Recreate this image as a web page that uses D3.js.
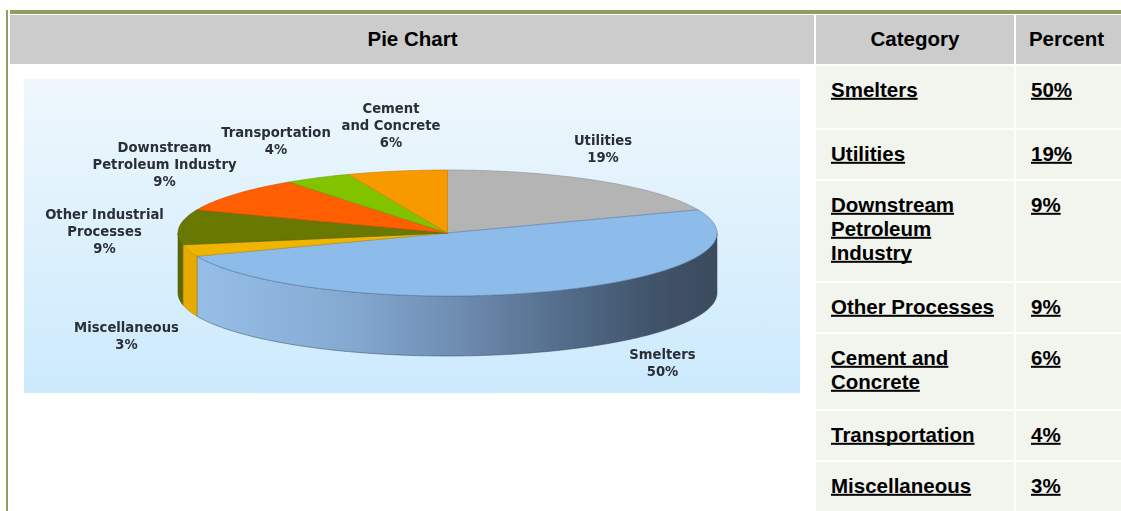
<!DOCTYPE html>
<html>
<head>
<meta charset="utf-8">
<script src="https://cdn.jsdelivr.net/npm/d3@7"></script>
<style>
  html, body { margin: 0; padding: 0; background: #ffffff; overflow: hidden; }
  svg { display: block; }
</style>
</head>
<body>
<svg id="chart" width="1121" height="511"></svg>
<script>
// ---- data ---------------------------------------------------------------
// Pie slices, clockwise from 12 o'clock
const sliceCategories = ["Utilities", "Smelters", "Miscellaneous", "Other Industrial Processes",
                         "Downstream Petroleum Industry", "Transportation", "Cement and Concrete"];
const sliceLabelLines = [["Utilities"], ["Smelters"], ["Miscellaneous"], ["Other Industrial", "Processes"],
                         ["Downstream", "Petroleum Industry"], ["Transportation"], ["Cement", "and Concrete"]];
const slicePercents = [19, 50, 3, 9, 9, 4, 6];

// Table rows
const tableHeaders = ["Pie Chart", "Category", "Percent"];
const tableCategories = ["Smelters", "Utilities", "Downstream Petroleum Industry", "Other Processes",
                         "Cement and Concrete", "Transportation", "Miscellaneous"];
const tablePercents = [50, 19, 9, 9, 6, 4, 3];

// ---- styles -------------------------------------------------------------
const topColors  = ["#b4b4b4", "#8dbbea", "#efb500", "#687800", "#ff5e00", "#82c300", "#f79a04"];
const sideColors = ["#9a9a9a", "url(#smeltSide)", "#e6aa00", "#5a6700", "#e05000", "#70a800", "#d98500"];
const green = "#8e9f60";
const headerGray = "#cccccc";
const cellBg = "#f2f4ee";
const tableFont = "'Liberation Sans', Arial, sans-serif";
const labelFont = "'DejaVu Sans', sans-serif";

const svg = d3.select("#chart");
const defs = svg.append("defs");

// ---- table frame --------------------------------------------------------
const colEdges = [10, 815, 1015, 1121];   // column boundaries (white rules sit on the inner ones)
const headTop = 14, headBottom = 65;
const lineH = 24, baseOffset = 31.5, padX = 15, minFirstRow = 64;

// olive frame lines
svg.append("rect").attr("x", 6).attr("y", 10).attr("width", 2).attr("height", 511 - 10).attr("fill", green);
svg.append("rect").attr("x", 10).attr("y", 10).attr("width", 1121 - 10).attr("height", 4).attr("fill", green);

// header cells
const headerG = svg.append("g");
headerG.selectAll("rect").data(tableHeaders).join("rect")
  .attr("x", (d, i) => colEdges[i] + (i === 0 ? 0 : 1))
  .attr("y", headTop + 1)
  .attr("width", (d, i) => colEdges[i + 1] - colEdges[i] - (i === 0 ? 1 : (i === 2 ? 1 : 2)))
  .attr("height", headBottom - headTop - 2)
  .attr("fill", headerGray);
headerG.selectAll("text").data(tableHeaders).join("text")
  .attr("x", (d, i) => (colEdges[i] + colEdges[i + 1] + (i === 2 ? -3 : 0)) / 2)
  .attr("y", 46)
  .attr("text-anchor", "middle")
  .attr("font-family", tableFont).attr("font-weight", "bold").attr("font-size", "20.5px")
  .attr("fill", "#000")
  .text(d => d);

// body rows (text wrapped to the category column width)
const bodyG = svg.append("g").attr("font-family", tableFont).attr("font-weight", "bold")
  .attr("font-size", "20.5px").attr("fill", "#000");

const measure = bodyG.append("text").attr("visibility", "hidden");
function wrap(str, maxW) {
  const words = str.split(" ");
  const lines = [];
  let cur = "";
  words.forEach(w => {
    const trial = cur ? cur + " " + w : w;
    measure.text(trial);
    if (cur && measure.node().getComputedTextLength() > maxW) { lines.push(cur); cur = w; }
    else cur = trial;
  });
  if (cur) lines.push(cur);
  return lines;
}
const catWidth = colEdges[2] - colEdges[1] - 2 * padX - 2;

let yCursor = headBottom;
const rows = tableCategories.map((c, i) => {
  const lines = wrap(c, catWidth);
  let h = Math.round(25.5 * (lines.length + 1));
  if (i === 0) h = Math.max(h, minFirstRow);
  const r = { lines, pct: tablePercents[i] + "%", top: yCursor, h };
  yCursor += h;
  return r;
});
measure.remove();

const rowG = bodyG.selectAll("g.row").data(rows).join("g").attr("class", "row");
[1, 2].forEach(ci => {
  rowG.append("rect")
    .attr("x", colEdges[ci] + 1)
    .attr("y", d => d.top + 1)
    .attr("width", colEdges[ci + 1] - colEdges[ci] - (ci === 2 ? 1 : 2))
    .attr("height", d => d.h - 2)
    .attr("fill", cellBg);
});

function underlinedText(g, str, x, y) {
  const t = g.append("text").attr("x", x).attr("y", y).text(str);
  const w = t.node().getComputedTextLength();
  g.append("rect").attr("x", x).attr("y", y + 1.3).attr("width", w).attr("height", 2).attr("fill", "#000");
}
rowG.each(function (d) {
  const g = d3.select(this);
  d.lines.forEach((ln, k) => underlinedText(g, ln, colEdges[1] + 1 + padX, d.top + baseOffset + k * lineH));
  underlinedText(g, d.pct, colEdges[2] + 1 + padX, d.top + baseOffset);
});

// ---- pie picture --------------------------------------------------------
const img = { x: 24, y: 79, w: 776, h: 314 };
const bg = defs.append("linearGradient").attr("id", "imgBg").attr("x1", 0).attr("y1", 0).attr("x2", 0).attr("y2", 1);
bg.append("stop").attr("offset", 0).attr("stop-color", "#eef7fc");
bg.append("stop").attr("offset", 1).attr("stop-color", "#cceafd");
svg.append("rect").attr("x", img.x).attr("y", img.y).attr("width", img.w).attr("height", img.h).attr("fill", "url(#imgBg)");

const P = { cx: 447.5, cy: 233, rx: 269.5, ry: 63, depth: 60 };

const sg = defs.append("linearGradient").attr("id", "smeltSide").attr("gradientUnits", "userSpaceOnUse")
  .attr("x1", P.cx - P.rx).attr("y1", 0).attr("x2", P.cx + P.rx).attr("y2", 0);
[[0, "#98c1eb"], [0.3, "#86abd3"], [0.52, "#6e8db1"], [0.72, "#536c8a"], [0.88, "#415369"], [1, "#3c4b5f"]]
  .forEach(([o, c]) => sg.append("stop").attr("offset", o).attr("stop-color", c));

const blur = defs.append("filter").attr("id", "soft").attr("x", "-5%").attr("y", "-5%").attr("width", "110%").attr("height", "110%");
blur.append("feGaussianBlur").attr("stdDeviation", 0.6);

const slices = d3.pie().sort(null).value(d => d.value)
  (sliceCategories.map((c, i) => ({ name: c, value: slicePercents[i], lines: sliceLabelLines[i], i })));

const ex = d3.scaleLinear().domain([-1, 1]).range([P.cx - P.rx, P.cx + P.rx]);
const ey = d3.scaleLinear().domain([-1, 1]).range([P.cy - P.ry, P.cy + P.ry]);
const pt = (a, dy) => [ex(Math.sin(a)), ey(-Math.cos(a)) + dy];
const arcPts = (a0, a1, dy) => {
  const n = Math.max(2, Math.ceil((a1 - a0) / 0.01));
  return d3.range(n + 1).map(k => pt(a0 + (a1 - a0) * k / n, dy));
};
const line = d3.line();

const pieG = svg.append("g").attr("filter", "url(#soft)");

// front walls
pieG.append("g").selectAll("path").data(slices).join("path")
  .attr("d", d => {
    const s0 = Math.max(d.startAngle, Math.PI / 2), s1 = Math.min(d.endAngle, 3 * Math.PI / 2);
    if (s1 <= s0) return null;
    return line([...arcPts(s0, s1, 0), ...arcPts(s0, s1, P.depth).reverse()]) + "Z";
  })
  .attr("fill", d => sideColors[d.data.i])
  .attr("stroke", d => d.data.i === 1 ? "#3d5068" : d3.color(topColors[d.data.i]).darker(0.8))
  .attr("stroke-width", 0.8).attr("stroke-opacity", 0.7);

// top faces
pieG.append("g").selectAll("path").data(slices).join("path")
  .attr("d", d => line([[P.cx, P.cy], ...arcPts(d.startAngle, d.endAngle, 0)]) + "Z")
  .attr("fill", d => topColors[d.data.i])
  .attr("stroke", d => d.data.i === 1 ? "#5d7fa6" : d3.color(topColors[d.data.i]).darker(0.6))
  .attr("stroke-width", 0.8).attr("stroke-opacity", 0.75).attr("stroke-linejoin", "round");

// slice labels, placed around the pie (offsets from the pie centre)
const labelAnchor = {
  "Utilities": [155.5, -93.5],
  "Smelters": [215, 120.5],
  "Miscellaneous": [-321, 94],
  "Other Industrial Processes": [-343, -19.5],
  "Downstream Petroleum Industry": [-283, -86],
  "Transportation": [-171.5, -101],
  "Cement and Concrete": [-56.5, -125]
};
const labelG = pieG.append("g").attr("font-family", labelFont).attr("font-weight", "bold")
  .attr("font-size", "13.2px").attr("fill", "#2a2e37").attr("text-anchor", "middle");
slices.forEach(d => {
  const [dx, dy] = labelAnchor[d.data.name];
  const t = labelG.append("text").attr("x", P.cx + dx).attr("y", P.cy + dy + 5);
  [...d.data.lines, d.data.value + "%"].forEach((ln, k) => {
    t.append("tspan").attr("x", P.cx + dx).attr("dy", k === 0 ? 0 : 17).text(ln);
  });
});
</script>
</body>
</html>
